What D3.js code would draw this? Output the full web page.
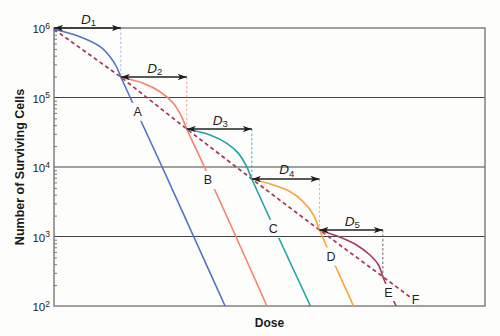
<!DOCTYPE html>
<html>
<head>
<meta charset="utf-8">
<script src="https://cdn.jsdelivr.net/npm/d3@7"></script>
<style>
  html, body { margin: 0; padding: 0; background: #fdfdfb; }
  svg { display: block; font-family: "Liberation Sans", Arial, Helvetica, sans-serif; }
</style>
</head>
<body>
<svg id="chart" width="500" height="336"></svg>
<script>
// Fractionated-dose cell survival: each fraction (A–E) has a shoulder then a steep
// exponential fall; F is the effective survival curve through the fraction points.

const curveNames  = ["A", "B", "C", "D", "E"];
const curveColors = ["#5272c2", "#f4826f", "#1ea3a6", "#f6a53c", "#a93a62"];

const doseA  = [0, 0.60, 1.07, 1.30, 1.45, 1.55, 2.51, 3.24, 3.97];
const cellsA = [957000, 750000, 540000, 387000, 277000, 197000, 10000, 1000, 100];

const doseB  = [1.55, 2.07, 2.46, 2.77, 2.96, 3.08, 3.49, 4.22, 4.94];
const cellsB = [197000, 160000, 121000, 82500, 52900, 35200, 10000, 1000, 100];

const doseC  = [3.08, 3.62, 4.01, 4.28, 4.47, 4.59, 5.20, 5.95];
const cellsC = [35200, 28900, 21900, 15700, 10100, 6720, 1000, 100];

const doseD  = [4.59, 5.09, 5.48, 5.78, 6.02, 6.16, 6.60, 6.95];
const cellsD = [6720, 5510, 4410, 3170, 2040, 1240, 300, 100];

const doseE  = [6.16, 6.64, 7.02, 7.33, 7.53, 7.63, 7.78, 7.94];
const cellsE = [1240, 974, 755, 542, 389, 264, 160, 100];

// Effective (multi-fraction) survival curve F
const doseF  = [0, 1.55, 3.08, 4.59, 6.16, 7.63, 8.54];
const cellsF = [957000, 197000, 35200, 6720, 1240, 264, 100];
const colorF = "#a3365b";

// Curve letter positions (on the curves), A..F
const labelNames = ["A", "B", "C", "D", "E", "F"];
const labelDose  = [1.94, 3.57, 5.09, 6.43, 7.76, 8.39];
const labelCells = [63300, 6610, 1310, 524, 159, 126];

// Fraction intervals D1..D5
const fractionNames = ["1", "2", "3", "4", "5"];
const fractionStart = [0, 1.55, 3.08, 4.59, 6.16];
const fractionEnd   = [1.55, 3.08, 4.59, 6.16, 7.63];
const fractionLevel = [1000000, 197000, 35200, 6720, 1240];
const fractionDrop  = [197000, 35200, 6720, 1240, 264];
const guideColors   = ["#a8bde6", "#f6a294", "#3db4b6", "#f8bb62", "#666666"];

// Axis
const decades = [100, 1000, 10000, 100000, 1000000];
const decadeExponents = ["2", "3", "4", "5", "6"];

const svg = d3.select("#chart");
const x = d3.scaleLinear().domain([0, 10]).range([54, 485]);
const y = d3.scaleLog().domain([100, 1000000]).range([306, 28]);

// Horizontal gridlines at each decade
svg.append("g")
  .selectAll("line")
  .data([1000, 10000, 100000])
  .join("line")
  .attr("x1", x.range()[0]).attr("x2", x.range()[1])
  .attr("y1", d => y(d)).attr("y2", d => y(d))
  .attr("stroke", "#444").attr("stroke-width", 1);

// Plot frame
svg.append("rect")
  .attr("x", x(0)).attr("y", y(1000000))
  .attr("width", x(10) - x(0)).attr("height", y(100) - y(1000000))
  .attr("fill", "none").attr("stroke", "#6e6e6e").attr("stroke-width", 1.3);

// Minor log ticks, inside the left axis
const minorTicks = [];
decades.slice(0, 4).forEach(dec => { for (let k = 2; k <= 9; k++) minorTicks.push(dec * k); });
const minorAxis = svg.append("g")
  .attr("transform", `translate(${x(0)},0)`)
  .call(d3.axisRight(y).tickValues(minorTicks).tickSize(3).tickFormat(""));
minorAxis.select(".domain").remove();
minorAxis.selectAll("line").attr("stroke", "#777");

// Decade labels 10^n
const majorAxis = svg.append("g")
  .attr("transform", `translate(${x(0)},0)`)
  .call(d3.axisLeft(y).tickValues(decades).tickSize(0).tickPadding(4).tickFormat(""));
majorAxis.select(".domain").remove();
majorAxis.selectAll("text")
  .attr("dy", "0.4em")
  .attr("fill", "#222")
  .style("font-family", "'Liberation Sans', Arial, sans-serif")
  .style("font-size", "11.5px")
  .each(function (d, i) {
    const t = d3.select(this);
    t.text("10");
    t.append("tspan").attr("dy", -4.6).style("font-size", "8.5px").text(decadeExponents[i]);
  });

// Axis titles
svg.append("text")
  .attr("transform", `translate(23.5,${(y(100) + y(1000000)) / 2}) rotate(-90)`)
  .attr("text-anchor", "middle")
  .style("font-weight", "bold").style("font-size", "12.5px").attr("fill", "#1a1a1a")
  .text("Number of Surviving Cells");

svg.append("text")
  .attr("x", (x(0) + x(10)) / 2).attr("y", 327)
  .attr("text-anchor", "middle")
  .style("font-weight", "bold").style("font-size", "12px").attr("fill", "#1a1a1a")
  .text("Dose");

// Vertical guides marking the end of each fraction
svg.append("g")
  .selectAll("line")
  .data(fractionEnd)
  .join("line")
  .attr("x1", d => x(d)).attr("x2", d => x(d))
  .attr("y1", (d, i) => y(fractionLevel[i]))
  .attr("y2", (d, i) => y(fractionDrop[i]))
  .attr("stroke", (d, i) => guideColors[i])
  .attr("stroke-width", 1)
  .attr("stroke-dasharray", "2.5,2");

// Curve letters (drawn first so their boxes can cut gaps in the curves)
const labelG = svg.append("g");
const labelNodes = labelNames.map((name, i) =>
  labelG.append("text")
    .attr("x", x(labelDose[i])).attr("y", y(labelCells[i]))
    .attr("dy", "0.36em")
    .attr("text-anchor", "middle")
    .style("font-size", "12.5px").attr("fill", "#1e1e1e")
    .text(name).node());

// One mask per curve, hiding the curve behind its own letter
const defs = svg.append("defs");
const pads = [[3, 4], [3, 4], [3, 4], [3, 4], [3, 3.5], [1.5, 2]];
labelNodes.forEach((node, i) => {
  const b = node.getBBox();
  const m = defs.append("mask").attr("id", "gap" + labelNames[i])
    .attr("maskUnits", "userSpaceOnUse")
    .attr("x", 0).attr("y", 0).attr("width", 500).attr("height", 336);
  m.append("rect").attr("x", 0).attr("y", 0).attr("width", 500).attr("height", 336).attr("fill", "#fff");
  m.append("rect")
    .attr("x", b.x - pads[i][0]).attr("y", b.y + 2 - pads[i][1])
    .attr("width", b.width + 2 * pads[i][0]).attr("height", b.height - 4 + 2 * pads[i][1])
    .attr("fill", "#000");
});

const smooth = d3.line().x(d => x(d[0])).y(d => y(d[1])).curve(d3.curveCatmullRom.alpha(0.5));
const straight = d3.line().x(d => x(d[0])).y(d => y(d[1]));

// Effective survival curve F (dashed)
svg.append("path")
  .attr("d", straight(d3.zip(doseF, cellsF)))
  .attr("fill", "none").attr("stroke", colorF).attr("stroke-width", 1.7)
  .attr("stroke-dasharray", "4,3")
  .attr("mask", "url(#gapF)");

// Single-fraction survival curves
const curveDose  = [doseA, doseB, doseC, doseD, doseE];
const curveCells = [cellsA, cellsB, cellsC, cellsD, cellsE];
curveNames.forEach((name, i) => {
  svg.append("path")
    .attr("d", smooth(d3.zip(curveDose[i], curveCells[i])))
    .attr("fill", "none").attr("stroke", curveColors[i]).attr("stroke-width", 1.6)
    .attr("mask", `url(#gap${name})`);
});

// Double-headed arrows for each fraction interval
defs.append("marker")
  .attr("id", "head")
  .attr("viewBox", "0 0 10 7")
  .attr("refX", 10).attr("refY", 3.5)
  .attr("markerUnits", "userSpaceOnUse")
  .attr("markerWidth", 9).attr("markerHeight", 6.5)
  .attr("orient", "auto-start-reverse")
  .append("path").attr("d", "M0,0 L10,3.5 L0,7 L2.5,3.5 Z").attr("fill", "#1e1e1e");

const arrows = svg.append("g");
fractionNames.forEach((n, i) => {
  const ay = y(fractionLevel[i]);
  arrows.append("line")
    .attr("x1", x(fractionStart[i])).attr("x2", x(fractionEnd[i]))
    .attr("y1", ay).attr("y2", ay)
    .attr("stroke", "#222").attr("stroke-width", 1.4)
    .attr("marker-start", "url(#head)").attr("marker-end", "url(#head)");
  const t = arrows.append("text")
    .attr("x", (x(fractionStart[i]) + x(fractionEnd[i])) / 2 + 1)
    .attr("y", ay - 4.5)
    .attr("text-anchor", "middle")
    .attr("fill", "#1e1e1e");
  t.append("tspan").style("font-style", "italic").style("font-size", "13.5px").text("D");
  t.append("tspan").attr("dy", 2.5).style("font-size", "9.5px").text(n);
});

// Keep letters above everything
labelG.raise();
</script>
</body>
</html>
